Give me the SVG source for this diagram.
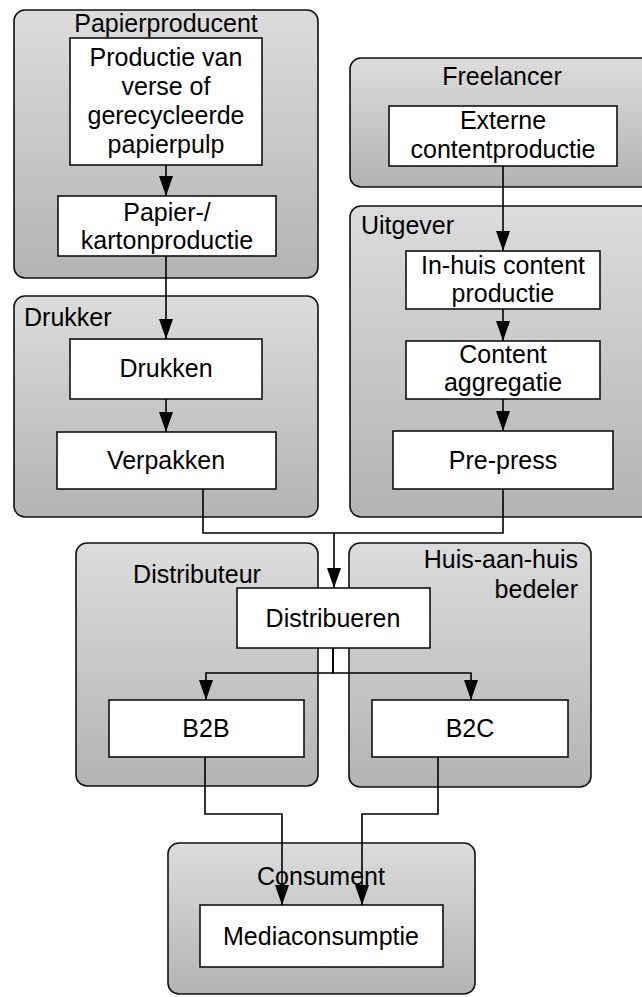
<svg xmlns="http://www.w3.org/2000/svg" width="642" height="997" viewBox="0 0 642 997">
  <defs>
    <linearGradient id="grp" x1="0" y1="0" x2="0" y2="1">
      <stop offset="0" stop-color="#dcdcdc"/>
      <stop offset="1" stop-color="#b3b3b3"/>
    </linearGradient>
    <marker id="arr" markerUnits="userSpaceOnUse" markerWidth="20" markerHeight="14" refX="20" refY="7" orient="auto" viewBox="0 0 20 14">
      <path d="M0,0 L20,7 L0,14 Z" fill="#000"/>
    </marker>
    <style>
      .grp rect { fill: url(#grp); stroke: #111; stroke-width: 1.6; }
      .node rect { fill: #fff; stroke: #111; stroke-width: 1.6; }
      text { font-family: "Liberation Sans", Arial, sans-serif; font-size: 25px; fill: #000; }
      .c { text-anchor: middle; }
      .r { text-anchor: end; }
      #connectors path { fill: none; stroke: #000; stroke-width: 1.6; }
      .a { marker-end: url(#arr); }
    </style>
  </defs>

  <!-- containers -->
  <g id="g-papierproducent" class="grp">
    <rect x="14" y="10" width="304" height="268" rx="11"/>
    <text class="c" x="166" y="32">Papierproducent</text>
  </g>
  <g id="g-freelancer" class="grp">
    <rect x="350" y="58" width="310" height="129" rx="11"/>
    <text class="c" x="502" y="85">Freelancer</text>
  </g>
  <g id="g-uitgever" class="grp">
    <rect x="350" y="206" width="310" height="311" rx="11"/>
    <text x="361" y="234">Uitgever</text>
  </g>
  <g id="g-drukker" class="grp">
    <rect x="14" y="296" width="304" height="221" rx="11"/>
    <text x="24" y="326">Drukker</text>
  </g>
  <g id="g-distributeur" class="grp">
    <rect x="76" y="543" width="242" height="243" rx="11"/>
    <text class="c" x="197" y="583">Distributeur</text>
  </g>
  <g id="g-huisaanhuis" class="grp">
    <rect x="349" y="543" width="242" height="244" rx="11"/>
    <text class="r" x="578" y="568">Huis-aan-huis</text>
    <text class="r" x="578" y="598">bedeler</text>
  </g>
  <g id="g-consument" class="grp">
    <rect x="168" y="843" width="307" height="151" rx="11"/>
    <text class="c" x="321" y="885">Consument</text>
  </g>

  <!-- nodes -->
  <g id="n-pulp" class="node">
    <rect x="70" y="38" width="192" height="127"/>
    <text class="c" x="166" y="66">Productie van</text>
    <text class="c" x="166" y="95">verse of</text>
    <text class="c" x="166" y="124">gerecycleerde</text>
    <text class="c" x="166" y="153">papierpulp</text>
  </g>
  <g id="n-karton" class="node">
    <rect x="58" y="196" width="218" height="60"/>
    <text class="c" x="167" y="221">Papier-/</text>
    <text class="c" x="167" y="249">kartonproductie</text>
  </g>
  <g id="n-drukken" class="node">
    <rect x="70" y="339" width="192" height="60"/>
    <text class="c" x="166" y="377">Drukken</text>
  </g>
  <g id="n-verpakken" class="node">
    <rect x="57" y="432" width="219" height="57"/>
    <text class="c" x="166" y="469">Verpakken</text>
  </g>
  <g id="n-extern" class="node">
    <rect x="389" y="106" width="228" height="60"/>
    <text class="c" x="503" y="129">Externe</text>
    <text class="c" x="503" y="158">contentproductie</text>
  </g>
  <g id="n-inhuis" class="node">
    <rect x="406" y="251" width="194" height="58"/>
    <text class="c" x="503" y="274">In-huis content</text>
    <text class="c" x="503" y="302">productie</text>
  </g>
  <g id="n-aggregatie" class="node">
    <rect x="406" y="341" width="194" height="58"/>
    <text class="c" x="503" y="363">Content</text>
    <text class="c" x="503" y="391">aggregatie</text>
  </g>
  <g id="n-prepress" class="node">
    <rect x="393" y="431" width="220" height="58"/>
    <text class="c" x="503" y="469">Pre-press</text>
  </g>
  <g id="n-distribueren" class="node">
    <rect x="237" y="588" width="193" height="60"/>
    <text class="c" x="333" y="627">Distribueren</text>
  </g>
  <g id="n-b2b" class="node">
    <rect x="109" y="700" width="195" height="57"/>
    <text class="c" x="206" y="737">B2B</text>
  </g>
  <g id="n-b2c" class="node">
    <rect x="372" y="700" width="196" height="57"/>
    <text class="c" x="470" y="737">B2C</text>
  </g>
  <g id="n-media" class="node">
    <rect x="200" y="905" width="243" height="62"/>
    <text class="c" x="321" y="945">Mediaconsumptie</text>
  </g>

  <!-- connectors -->
  <g id="connectors">
    <path class="a" d="M166,165 L166,196"/>
    <path class="a" d="M166,256 L166,339"/>
    <path class="a" d="M166,399 L166,432"/>
    <path class="a" d="M503,166 L503,251"/>
    <path class="a" d="M503,309 L503,341"/>
    <path class="a" d="M503,399 L503,431"/>
    <path class="a" d="M203,489 L203,533 L334,533 L334,588"/>
    <path d="M503,489 L503,533 L334,533"/>
    <path class="a" d="M333,648 L333,673 L206,673 L206,700"/>
    <path class="a" d="M333,648 L333,673 L471,673 L471,700"/>
    <path class="a" d="M205,757 L205,814 L282,814 L282,905"/>
    <path class="a" d="M438,757 L438,814 L362,814 L362,905"/>
  </g>
</svg>
